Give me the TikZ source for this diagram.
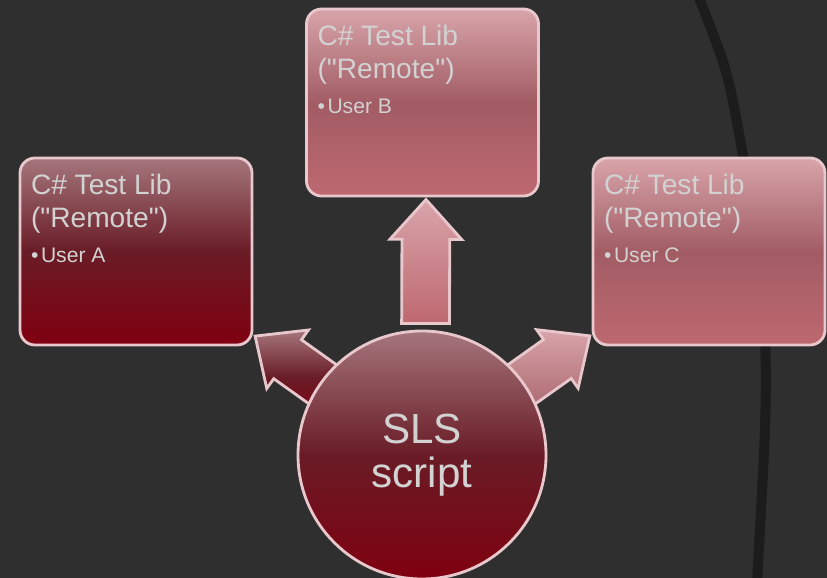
\documentclass[tikz,border=0pt]{standalone}
\usepackage{fontspec}
\setmainfont{Liberation Sans}
\usetikzlibrary{shapes.arrows}
\pgfdeclarelayer{back}
\pgfsetlayers{back,main}
\definecolor{slate}{RGB}{47,47,47}
\definecolor{groove}{RGB}{28,28,28}
\definecolor{glow}{RGB}{232,200,204}
\definecolor{inktext}{RGB}{210,210,210}
\definecolor{wineTop}{RGB}{165,118,124}
\definecolor{wineMid}{RGB}{105,28,38}
\definecolor{wineLow}{RGB}{128,0,16}
\definecolor{roseTop}{RGB}{216,164,170}
\definecolor{roseMid}{RGB}{162,92,100}
\definecolor{roseLow}{RGB}{190,104,112}
\newcommand{\libcard}[1]{%
  \begin{minipage}[t][3.1cm][t]{4.2cm}
    \fontsize{16}{18.7}\selectfont C\# Test Lib\\(\textquotedbl Remote\textquotedbl)\par
    \vspace{6pt}\fontsize{12}{14}\selectfont\textbullet\hspace{1.5pt}#1
  \end{minipage}}

\begin{document}
\begin{tikzpicture}[every node/.style={text=inktext},
    libbox/.style={draw=glow, line width=1.6pt, rounded corners=0.3cm,
      inner xsep=0.22cm, inner ysep=0.32cm},
    darkfill/.style={top color=wineTop, bottom color=wineLow, middle color=wineMid},
    lightfill/.style={top color=roseTop, bottom color=roseLow, middle color=roseMid},
    blockarrow/.style={single arrow, draw=glow, line width=1.6pt,
      inner xsep=0pt, inner ysep=0.45cm, single arrow head extend=0.24cm,
      single arrow tip angle=84, sloped, allow upside down, pos=1, anchor=tip}]
  \useasboundingbox (0,0) rectangle (16.54,11.56);

  \node[libbox, darkfill] (libA) at (2.72,6.53) {\libcard{User A}};
  \node[libbox, lightfill] (libB) at (8.45,9.51) {\libcard{User B}};
  \node[libbox, lightfill] (libC) at (14.18,6.53) {\libcard{User C}};
  \node[circle, draw=glow, line width=1.6pt, minimum size=4.96cm, inner sep=0pt,
    darkfill, align=center, font=\fontsize{24}{25}\selectfont] (sls) at (8.44,2.46) {SLS\\script};

  \begin{pgfonlayer}{back}
    \fill[slate] (0,0) rectangle (16.54,11.56);
    \draw[groove, line width=0.2cm] plot[smooth] coordinates
      {(13.94,11.7) (14.5,10.2) (14.84,8.56) (15.15,6.5) (15.3,4.76) (15.3,3.0) (15.14,-0.1)};
    % block arrows from the script out to the libs
    \path (sls.north) -- (libB.south) node[blockarrow, minimum height=2.48cm,
      top color=roseTop, bottom color=roseLow, yshift=-2pt] {};
    \path (sls) -- (libA) node[blockarrow, minimum height=2.4cm,
      top color=wineTop, bottom color=wineLow, middle color=wineMid] {};
    \path (sls) -- (libC) node[blockarrow, minimum height=2.4cm,
      top color=roseTop, bottom color=roseMid] {};
  \end{pgfonlayer}
\end{tikzpicture}
\end{document}
